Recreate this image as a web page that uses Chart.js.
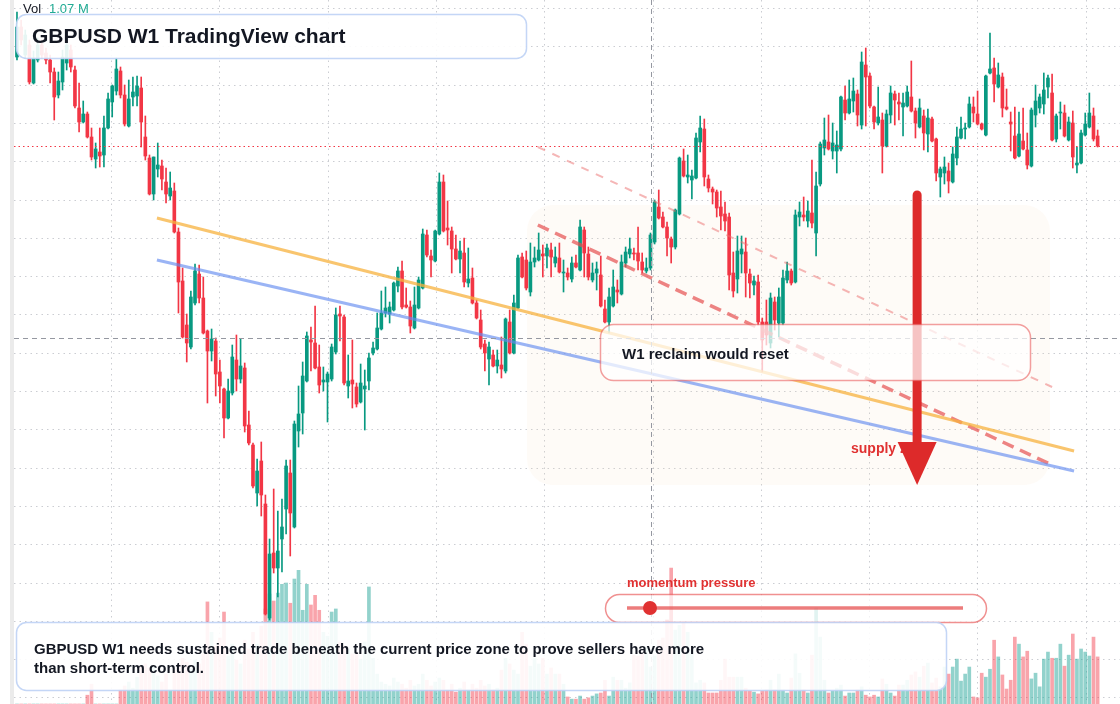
<!DOCTYPE html>
<html>
<head>
<meta charset="utf-8">
<title>GBPUSD W1 TradingView chart</title>
<script src="https://cdn.jsdelivr.net/npm/chart.js"></script>
<style>
  html, body { margin: 0; padding: 0; background: #ffffff; }
  #wrap { position: relative; width: 1120px; height: 704px; }
  canvas { display: block; }
</style>
</head>
<body>
<div id="wrap"><canvas id="chart" width="1120" height="704"></canvas></div>
<script>
// weekly candles, oldest first
const opens = [
  1.4215, 1.4365, 1.4225, 1.4275, 1.4085, 1.4200, 1.4275, 1.4235, 1.4200, 1.4140,
  1.4025, 1.4090, 1.4185, 1.4250, 1.4150, 1.3960, 1.3890, 1.3930, 1.3815, 1.3705,
  1.3740, 1.3725, 1.3860, 1.3990, 1.4045, 1.4145, 1.4025, 1.3870, 1.4015, 1.4020,
  1.4060, 1.3815, 1.3710, 1.3530, 1.3655, 1.3670, 1.3590, 1.3520, 1.3545, 1.3340,
  1.3095, 1.2875, 1.2765, 1.2985, 1.3130, 1.3010, 1.2845, 1.2745, 1.2795, 1.2640,
  1.2555, 1.2410, 1.2535, 1.2700, 1.2605, 1.2660, 1.2375, 1.2275, 1.2035, 1.2195,
  1.1980, 1.1410, 1.1735, 1.1660, 1.1805, 1.1955, 1.2135, 1.1865, 1.2345, 1.2435,
  1.2595, 1.2800, 1.2785, 1.2665, 1.2590, 1.2590, 1.2605, 1.2740, 1.2930, 1.2915,
  1.2570, 1.2600, 1.2565, 1.2490, 1.2555, 1.2595, 1.2735, 1.2755, 1.2855, 1.2935,
  1.2930, 1.2950, 1.3070, 1.3145, 1.2975, 1.2965, 1.2860, 1.2960, 1.3060, 1.3325,
  1.3220, 1.3195, 1.3330, 1.3590, 1.3360, 1.3345, 1.3255, 1.3205, 1.3235, 1.3085,
  1.3110, 1.2985, 1.2900, 1.2780, 1.2705, 1.2725, 1.2670, 1.2675, 1.2645, 1.2890,
  1.2735, 1.2960, 1.3215, 1.3200, 1.3040, 1.3190, 1.3200, 1.3230, 1.3220, 1.3250,
  1.3185, 1.3210, 1.3135, 1.3135, 1.3105, 1.3185, 1.3150, 1.3350, 1.3230, 1.3100,
  1.3135, 1.3125, 1.2955, 1.2890, 1.2970, 1.3050, 1.3030, 1.3185, 1.3230, 1.3235,
  1.3235, 1.3190, 1.3145, 1.3160, 1.3290, 1.3465, 1.3415, 1.3365, 1.3305, 1.3265,
  1.3430, 1.3695, 1.3615, 1.3600, 1.3610, 1.3790, 1.3855, 1.3605, 1.3555, 1.3540,
  1.3465, 1.3430, 1.3415, 1.3135, 1.3105, 1.3230, 1.3240, 1.3130, 1.3075, 1.3090,
  1.2890, 1.2890, 1.2785, 1.2990, 1.2885, 1.2885, 1.3100, 1.3145, 1.3090, 1.3415,
  1.3425, 1.3395, 1.3435, 1.3335, 1.3580, 1.3760, 1.3790, 1.3745, 1.3745, 1.3755,
  1.4000, 1.3935, 1.3995, 1.4030, 1.3875, 1.4175, 1.4120, 1.3965, 1.3885, 1.3900,
  1.3770, 1.3925, 1.4030, 1.3990, 1.3965, 1.3970, 1.4015, 1.3945, 1.3865, 1.3920,
  1.3830, 1.3905, 1.3805, 1.3615, 1.3635, 1.3645, 1.3590, 1.3710, 1.3810, 1.3855,
  1.3865, 1.3965, 1.3930, 1.3880, 1.3825, 1.4135, 1.4160, 1.4065, 1.4115, 1.3965,
  1.3890, 1.3820, 1.3720, 1.3795, 1.3750, 1.3670, 1.3925, 1.3960, 1.3980, 1.4065,
  1.4035, 1.3805, 1.3935, 1.3935, 1.3800, 1.3885, 1.3675, 1.3685, 1.3825, 1.3865,
  1.3920, 1.3820
];
const highs = [
  1.4440, 1.4400, 1.4350, 1.4300, 1.4245, 1.4310, 1.4300, 1.4260, 1.4225, 1.4160,
  1.4140, 1.4250, 1.4300, 1.4275, 1.4170, 1.4085, 1.3995, 1.3940, 1.3860, 1.3785,
  1.3860, 1.3920, 1.4035, 1.4075, 1.4210, 1.4165, 1.4075, 1.4100, 1.4115, 1.4120,
  1.4115, 1.3920, 1.3725, 1.3715, 1.3785, 1.3700, 1.3660, 1.3640, 1.3585, 1.3360,
  1.3160, 1.2930, 1.3045, 1.3180, 1.3175, 1.3115, 1.2850, 1.2855, 1.2810, 1.2700,
  1.2560, 1.2605, 1.2775, 1.2825, 1.2805, 1.2685, 1.2445, 1.2285, 1.2205, 1.2290,
  1.2025, 1.1805, 1.2055, 1.1945, 1.2005, 1.2200, 1.2200, 1.2395, 1.2570, 1.2690,
  1.2840, 1.2865, 1.2970, 1.2775, 1.2665, 1.2640, 1.2780, 1.2960, 1.2970, 1.2925,
  1.2725, 1.2800, 1.2585, 1.2680, 1.2650, 1.2735, 1.2790, 1.2935, 1.3045, 1.3065,
  1.2990, 1.3090, 1.3165, 1.3195, 1.3060, 1.2995, 1.3065, 1.3115, 1.3355, 1.3350,
  1.3250, 1.3350, 1.3635, 1.3625, 1.3495, 1.3365, 1.3325, 1.3295, 1.3310, 1.3260,
  1.3160, 1.3000, 1.2950, 1.2800, 1.2790, 1.2750, 1.2750, 1.2815, 1.2910, 1.2950,
  1.3025, 1.3225, 1.3235, 1.3245, 1.3285, 1.3265, 1.3335, 1.3275, 1.3280, 1.3285,
  1.3265, 1.3285, 1.3200, 1.3160, 1.3215, 1.3225, 1.3400, 1.3365, 1.3265, 1.3185,
  1.3190, 1.3220, 1.3000, 1.3060, 1.3150, 1.3100, 1.3225, 1.3265, 1.3310, 1.3260,
  1.3365, 1.3235, 1.3210, 1.3335, 1.3500, 1.3550, 1.3440, 1.3390, 1.3315, 1.3455,
  1.3715, 1.3755, 1.3725, 1.3650, 1.3835, 1.3920, 1.3905, 1.3625, 1.3565, 1.3550,
  1.3545, 1.3490, 1.3435, 1.3240, 1.3320, 1.3320, 1.3310, 1.3155, 1.3120, 1.3125,
  1.2910, 1.3000, 1.3035, 1.3015, 1.3060, 1.3150, 1.3190, 1.3155, 1.3450, 1.3490,
  1.3515, 1.3495, 1.3700, 1.3640, 1.3790, 1.3910, 1.3925, 1.3885, 1.3845, 1.4020,
  1.4070, 1.4100, 1.4110, 1.4050, 1.4240, 1.4260, 1.4135, 1.3970, 1.4065, 1.3935,
  1.3950, 1.4070, 1.4045, 1.4035, 1.4035, 1.4070, 1.4195, 1.3960, 1.4005, 1.3950,
  1.3955, 1.3915, 1.3810, 1.3665, 1.3715, 1.3685, 1.3765, 1.3865, 1.3915, 1.3885,
  1.4015, 1.4015, 1.4045, 1.3885, 1.4125, 1.4335, 1.4210, 1.4185, 1.4135, 1.4055,
  1.3940, 1.3965, 1.3940, 1.3960, 1.3835, 1.3960, 1.4075, 1.4030, 1.4135, 1.4125,
  1.4130, 1.3930, 1.3990, 1.3975, 1.3915, 1.3945, 1.3765, 1.3850, 1.3935, 1.4035,
  1.3960, 1.3850
];
const lows = [
  1.4200, 1.4275, 1.4210, 1.4080, 1.4080, 1.4190, 1.4210, 1.4180, 1.4085, 1.3900,
  1.4010, 1.4050, 1.4150, 1.4140, 1.3960, 1.3840, 1.3885, 1.3810, 1.3700, 1.3660,
  1.3665, 1.3665, 1.3855, 1.3915, 1.4025, 1.4010, 1.3870, 1.3865, 1.3970, 1.3970,
  1.3765, 1.3700, 1.3525, 1.3500, 1.3615, 1.3550, 1.3485, 1.3500, 1.3335, 1.2935,
  1.2810, 1.2690, 1.2755, 1.2975, 1.2985, 1.2830, 1.2485, 1.2695, 1.2520, 1.2485,
  1.2310, 1.2405, 1.2525, 1.2545, 1.2585, 1.2340, 1.2275, 1.2060, 1.1970, 1.1920,
  1.1425, 1.1400, 1.1635, 1.1515, 1.1640, 1.1830, 1.1720, 1.1860, 1.2265, 1.2330,
  1.2590, 1.2645, 1.2655, 1.2535, 1.2545, 1.2390, 1.2595, 1.2730, 1.2795, 1.2575,
  1.2510, 1.2460, 1.2465, 1.2485, 1.2350, 1.2550, 1.2725, 1.2750, 1.2850, 1.2915,
  1.2885, 1.2945, 1.3040, 1.2955, 1.2960, 1.2835, 1.2855, 1.2955, 1.3055, 1.3215,
  1.3115, 1.3190, 1.3325, 1.3340, 1.3275, 1.3135, 1.3200, 1.3135, 1.3065, 1.3065,
  1.2980, 1.2905, 1.2755, 1.2645, 1.2575, 1.2665, 1.2635, 1.2610, 1.2635, 1.2730,
  1.2730, 1.2955, 1.3110, 1.3050, 1.3020, 1.3165, 1.3195, 1.3115, 1.3160, 1.3115,
  1.3165, 1.3135, 1.3040, 1.3100, 1.3090, 1.3160, 1.3145, 1.3115, 1.3100, 1.3090,
  1.3050, 1.2965, 1.2885, 1.2835, 1.2965, 1.2985, 1.3025, 1.3165, 1.3210, 1.3200,
  1.3150, 1.3135, 1.3135, 1.3150, 1.3280, 1.3405, 1.3360, 1.3220, 1.3185, 1.3255,
  1.3425, 1.3615, 1.3585, 1.3505, 1.3605, 1.3740, 1.3570, 1.3540, 1.3480, 1.3415,
  1.3350, 1.3345, 1.3050, 1.3015, 1.3035, 1.3135, 1.3015, 1.3010, 1.3025, 1.2875,
  1.2640, 1.2775, 1.2760, 1.2850, 1.2815, 1.2875, 1.3085, 1.3075, 1.3085, 1.3370,
  1.3395, 1.3365, 1.3360, 1.3220, 1.3570, 1.3725, 1.3750, 1.3705, 1.3635, 1.3745,
  1.3900, 1.3930, 1.3940, 1.3870, 1.3855, 1.3870, 1.3960, 1.3855, 1.3875, 1.3635,
  1.3765, 1.3885, 1.3875, 1.3900, 1.3820, 1.3965, 1.3940, 1.3810, 1.3860, 1.3750,
  1.3740, 1.3790, 1.3595, 1.3515, 1.3580, 1.3535, 1.3585, 1.3675, 1.3805, 1.3805,
  1.3860, 1.3890, 1.3875, 1.3850, 1.3820, 1.4130, 1.3990, 1.4060, 1.3915, 1.3950,
  1.3745, 1.3705, 1.3715, 1.3750, 1.3655, 1.3665, 1.3865, 1.3935, 1.3930, 1.4010,
  1.3795, 1.3790, 1.3855, 1.3815, 1.3795, 1.3660, 1.3635, 1.3680, 1.3820, 1.3860,
  1.3795, 1.3765
];
const closes = [
  1.4365, 1.4300, 1.4325, 1.4090, 1.4210, 1.4275, 1.4225, 1.4200, 1.4140, 1.4015,
  1.4095, 1.4215, 1.4275, 1.4165, 1.3970, 1.3890, 1.3930, 1.3815, 1.3715, 1.3755,
  1.3720, 1.3860, 1.4005, 1.4070, 1.4155, 1.4025, 1.3880, 1.4005, 1.4040, 1.4070,
  1.3890, 1.3720, 1.3530, 1.3715, 1.3675, 1.3605, 1.3530, 1.3560, 1.3340, 1.3090,
  1.2815, 1.2785, 1.3015, 1.3145, 1.3010, 1.2835, 1.2745, 1.2805, 1.2630, 1.2570,
  1.2410, 1.2545, 1.2715, 1.2605, 1.2670, 1.2370, 1.2285, 1.2070, 1.2145, 1.2025,
  1.1430, 1.1730, 1.1660, 1.1745, 1.1865, 1.2170, 1.1935, 1.2380, 1.2430, 1.2620,
  1.2820, 1.2790, 1.2660, 1.2575, 1.2600, 1.2630, 1.2765, 1.2925, 1.2920, 1.2585,
  1.2595, 1.2580, 1.2480, 1.2585, 1.2570, 1.2710, 1.2760, 1.2860, 1.2935, 1.2960,
  1.2965, 1.3085, 1.3145, 1.2965, 1.2965, 1.2870, 1.2975, 1.3100, 1.3330, 1.3225,
  1.3200, 1.3345, 1.3590, 1.3345, 1.3350, 1.3255, 1.3205, 1.3245, 1.3090, 1.3105,
  1.2985, 1.2910, 1.2765, 1.2735, 1.2765, 1.2670, 1.2700, 1.2655, 1.2905, 1.2735,
  1.2985, 1.3210, 1.3115, 1.3060, 1.3190, 1.3210, 1.3250, 1.3220, 1.3260, 1.3215,
  1.3215, 1.3140, 1.3140, 1.3115, 1.3185, 1.3165, 1.3365, 1.3235, 1.3115, 1.3135,
  1.3155, 1.2970, 1.2890, 1.3015, 1.3065, 1.3040, 1.3190, 1.3240, 1.3255, 1.3230,
  1.3195, 1.3150, 1.3160, 1.3325, 1.3490, 1.3410, 1.3365, 1.3310, 1.3265, 1.3450,
  1.3710, 1.3620, 1.3625, 1.3620, 1.3810, 1.3860, 1.3615, 1.3560, 1.3540, 1.3460,
  1.3420, 1.3395, 1.3125, 1.3045, 1.3245, 1.3255, 1.3135, 1.3085, 1.3095, 1.2890,
  1.2800, 1.2825, 1.3010, 1.2900, 1.3015, 1.3110, 1.3145, 1.3085, 1.3425, 1.3440,
  1.3415, 1.3445, 1.3385, 1.3570, 1.3780, 1.3800, 1.3755, 1.3785, 1.3775, 1.4015,
  1.3935, 1.4005, 1.4045, 1.3925, 1.4190, 1.4115, 1.3970, 1.3890, 1.3915, 1.3770,
  1.3930, 1.4035, 1.4000, 1.3980, 1.3985, 1.4040, 1.3945, 1.3885, 1.3960, 1.3835,
  1.3910, 1.3795, 1.3635, 1.3655, 1.3665, 1.3595, 1.3730, 1.3815, 1.3855, 1.3860,
  1.3980, 1.3935, 1.3880, 1.3855, 1.4120, 1.4155, 1.4080, 1.4125, 1.3960, 1.3955,
  1.3880, 1.3710, 1.3830, 1.3755, 1.3675, 1.3950, 1.3995, 1.4015, 1.4050, 1.4110,
  1.3800, 1.3920, 1.3940, 1.3820, 1.3890, 1.3715, 1.3685, 1.3835, 1.3880, 1.3935,
  1.3805, 1.3770
];
// volume, millions
const volumes = [
  0, 0, 0, 0, 0, 0, 0, 0, 0, 0,
  0, 0, 0, 0, 0, 0, 0, 0.20, 0.45, 0,
  0, 0, 0, 0, 0, 0.32, 0.41, 0.50, 0.36, 0.61,
  0.86, 0.91, 0.82, 0.86, 0.64, 0.50, 0.68, 0.32, 0.77, 0.91,
  1.04, 0.95, 0.82, 1.00, 0.91, 1.14, 2.32, 1.63, 1.32, 1.50,
  2.09, 1.09, 1.36, 1.00, 0.91, 1.45, 1.25, 1.63, 1.36, 1.77,
  2.16, 2.50, 2.34, 2.52, 2.72, 2.75, 2.29, 2.84, 3.04, 2.13,
  2.72, 2.25, 2.47, 2.13, 1.63, 1.54, 2.09, 2.16, 1.41, 1.32,
  1.25, 1.14, 1.18, 1.02, 1.41, 2.66, 1.04, 0.68, 0.50, 0.45,
  0.41, 0.59, 0.50, 0.45, 0.36, 0.54, 0.41, 0.45, 0.68, 0.54,
  0.41, 0.50, 0.59, 0.54, 0.32, 0.45, 0.27, 0.36, 0.50, 0.32,
  0.45, 0.36, 0.54, 0.41, 0.45, 0.32, 0.36, 0.77, 1.04, 0.91,
  0.77, 0.68, 1.63, 1.36, 0.86, 1.04, 0.91, 1.04, 0.68, 0.82,
  0.68, 0.68, 0.45, 0.16, 0.11, 0.11, 0.18, 0.11, 0.14, 0.18,
  0.23, 0.25, 0.54, 0.18, 0.61, 0.54, 0.54, 0.36, 0.48, 1.11,
  1.09, 1.14, 1.29, 0.84, 1.09, 1.45, 1.50, 1.91, 3.09, 1.68,
  1.79, 1.86, 1.63, 1.23, 0.48, 0.54, 0.48, 0.25, 0.25, 0.25,
  0.54, 1.02, 0.61, 0.61, 0.61, 0.61, 0.36, 0.30, 0.27, 0.23,
  0.30, 0.32, 0.54, 0.32, 0.68, 0.32, 0.25, 0.59, 1.14, 0.70,
  0.32, 0.25, 1.11, 2.18, 1.52, 0.54, 0.25, 0.30, 0.36, 0.43,
  0.18, 0.25, 0.25, 0.32, 0.39, 0.20, 0.16, 0.20, 0.16, 0.57,
  0.45, 0.25, 0.18, 0.43, 0.43, 0.54, 0.66, 0.73, 0.61, 0.86,
  0.93, 0.48, 0.59, 0.39, 0.84, 0.68, 0.84, 1.02, 0.52, 0.68,
  0.84, 0.16, 0.14, 0.70, 0.61, 0.79, 1.45, 1.07, 0.66, 0.34,
  0.54, 1.52, 1.36, 1.07, 1.20, 0.57, 0.70, 0.39, 1.02, 1.18,
  1.04, 1.04, 1.36, 0.86, 1.11, 1.59, 1.02, 1.25, 1.18, 1.09,
  1.52, 1.07
];

// drawn trend lines: bar index / price at each end
const upperTrendX = [33.8, 255.3];
const upperTrendY = [1.3410, 1.2245];
const lowerTrendX = [33.8, 255.3];
const lowerTrendY = [1.3200, 1.2145];
const channelX = [125.8, 250.5];
const channelY = [1.3375, 1.2170];
const channelTopX = [125.8, 250.0];
const channelTopY = [1.3765, 1.2565];

// crosshair and arrow anchors
const crossBar = 153.1;
const crossPrice = 1.2810;
const arrowBar = 217.4;
const arrowFrom = 1.3525;
const arrowTo = 1.2075;

const UP = '#089981';
const DOWN = '#f23645';

const idx = opens.map((_, i) => i);
const rising = idx.map(i => closes[i] >= opens[i]);
const candleColors = rising.map(u => (u ? UP : DOWN));
const volumeColors = rising.map(u => (u ? 'rgba(38,166,154,0.5)' : 'rgba(242,54,69,0.45)'));

const pts = (xs, ys) => xs.map((x, i) => ({ x: x, y: ys[i] }));

function rr(ctx, x, y, w, h, r) {
  ctx.beginPath();
  ctx.moveTo(x + r, y);
  ctx.arcTo(x + w, y, x + w, y + h, r);
  ctx.arcTo(x + w, y + h, x, y + h, r);
  ctx.arcTo(x, y + h, x, y, r);
  ctx.arcTo(x, y, x + w, y, r);
  ctx.closePath();
}

const FONT = '"Liberation Sans", Arial, sans-serif';

const scene = {
  id: 'scene',
  beforeDraw(chart) {
    const ctx = chart.ctx;
    ctx.save();
    ctx.fillStyle = '#ffffff';
    ctx.fillRect(0, 0, chart.width, chart.height);
    ctx.fillStyle = '#ebebeb';
    ctx.fillRect(10, 0, 4, chart.height);
    ctx.restore();
  },
  beforeDatasetsDraw(chart) {
    const ctx = chart.ctx;
    const a = chart.chartArea;
    const xs = chart.scales.x, ys = chart.scales.y;
    ctx.save();
    ctx.strokeStyle = 'rgba(140,145,155,0.45)';
    ctx.lineWidth = 1;
    ctx.setLineDash([1.5, 4]);
    for (let v = 22.7; v < 266; v += 26.16) {
      const px = Math.round(xs.getPixelForValue(v)) + 0.5;
      ctx.beginPath(); ctx.moveTo(px, a.top); ctx.lineTo(px, a.bottom); ctx.stroke();
    }
    for (let p = 1.4460; p > 1.098; p -= 0.01915) {
      const py = Math.round(ys.getPixelForValue(p)) + 0.5;
      ctx.beginPath(); ctx.moveTo(a.left, py); ctx.lineTo(a.right, py); ctx.stroke();
    }
    ctx.setLineDash([]);
    // faint supply zone shading
    rr(ctx, 527, 205, 523, 280, 26);
    ctx.fillStyle = 'rgba(250,222,190,0.13)';
    ctx.fill();
    ctx.restore();
  },
  afterDatasetsDraw(chart) {
    const ctx = chart.ctx;
    const a = chart.chartArea;
    const xs = chart.scales.x, ys = chart.scales.y;
    ctx.save();

    // last price line
    const lp = Math.round(ys.getPixelForValue(closes[closes.length - 1])) + 0.5;
    ctx.strokeStyle = '#f23645';
    ctx.lineWidth = 1;
    ctx.setLineDash([1.5, 3]);
    ctx.beginPath(); ctx.moveTo(a.left, lp); ctx.lineTo(a.right, lp); ctx.stroke();

    // crosshair
    ctx.strokeStyle = '#9598a1';
    ctx.setLineDash([5, 4]);
    const cx = Math.round(xs.getPixelForValue(crossBar)) + 0.5;
    const cy = Math.round(ys.getPixelForValue(crossPrice)) + 0.5;
    ctx.beginPath(); ctx.moveTo(cx, a.top); ctx.lineTo(cx, a.bottom); ctx.stroke();
    ctx.beginPath(); ctx.moveTo(a.left, cy); ctx.lineTo(a.right, cy); ctx.stroke();
    ctx.setLineDash([]);

    // supply zone label + arrow
    ctx.font = 'bold 14px ' + FONT;
    ctx.fillStyle = '#e03131';
    ctx.textBaseline = 'alphabetic';
    ctx.fillText('supply zone', 851, 453);

    const ax = xs.getPixelForValue(arrowBar);
    const aTop = ys.getPixelForValue(arrowFrom);
    const aTip = ys.getPixelForValue(arrowTo);
    const headLen = 43, headHalf = 19.5;
    ctx.strokeStyle = '#dd2a2a';
    ctx.fillStyle = '#dd2a2a';
    ctx.lineWidth = 9;
    ctx.lineCap = 'round';
    ctx.beginPath(); ctx.moveTo(ax, aTop); ctx.lineTo(ax, aTip - headLen + 4); ctx.stroke();
    ctx.beginPath();
    ctx.moveTo(ax - headHalf, aTip - headLen);
    ctx.lineTo(ax + headHalf, aTip - headLen);
    ctx.lineTo(ax, aTip);
    ctx.closePath();
    ctx.fill();
    ctx.lineCap = 'butt';

    // reclaim note
    rr(ctx, 600.5, 324.5, 430, 56, 13);
    ctx.fillStyle = 'rgba(255,255,255,0.72)';
    ctx.fill();
    ctx.strokeStyle = 'rgba(232,80,80,0.55)';
    ctx.lineWidth = 1.5;
    ctx.stroke();
    ctx.fillStyle = '#131722';
    ctx.font = 'bold 15px ' + FONT;
    ctx.fillText('W1 reclaim would reset', 622, 359);

    // momentum pressure gauge
    ctx.font = 'bold 13px ' + FONT;
    ctx.fillStyle = '#e03131';
    ctx.fillText('momentum pressure', 627, 587);
    rr(ctx, 605.5, 594.5, 381, 28, 14);
    ctx.fillStyle = 'rgba(255,255,255,0.72)';
    ctx.fill();
    ctx.strokeStyle = 'rgba(230,70,70,0.6)';
    ctx.lineWidth = 1.5;
    ctx.stroke();
    ctx.strokeStyle = 'rgba(230,80,80,0.75)';
    ctx.lineWidth = 3.5;
    ctx.beginPath(); ctx.moveTo(627, 608); ctx.lineTo(963, 608); ctx.stroke();
    ctx.fillStyle = '#e03131';
    ctx.beginPath(); ctx.arc(650, 608, 7, 0, Math.PI * 2); ctx.fill();

    // title card
    rr(ctx, 16.5, 14.5, 510, 44, 10);
    ctx.fillStyle = 'rgba(255,255,255,0.9)';
    ctx.fill();
    ctx.strokeStyle = 'rgba(190,210,245,0.9)';
    ctx.lineWidth = 1.5;
    ctx.stroke();
    ctx.fillStyle = '#131722';
    ctx.font = 'bold 21px ' + FONT;
    ctx.fillText('GBPUSD W1 TradingView chart', 32, 43);

    // bottom note
    rr(ctx, 16.5, 622.5, 930, 68, 10);
    ctx.fillStyle = 'rgba(255,255,255,0.9)';
    ctx.fill();
    ctx.strokeStyle = 'rgba(190,210,245,0.9)';
    ctx.stroke();
    ctx.fillStyle = '#131722';
    ctx.font = 'bold 15px ' + FONT;
    ctx.fillText('GBPUSD W1 needs sustained trade beneath the current price zone to prove sellers have more', 34, 654);
    ctx.fillText('than short-term control.', 34, 673);

    // volume legend
    ctx.font = '13px ' + FONT;
    ctx.fillStyle = '#131722';
    ctx.fillText('Vol', 23, 13);
    ctx.fillStyle = '#22ab94';
    ctx.fillText(volumes[volumes.length - 1].toFixed(2) + ' M', 49, 13);

    ctx.restore();
  }
};

new Chart(document.getElementById('chart'), {
  data: {
    datasets: [
      { type: 'line', data: pts(upperTrendX, upperTrendY), borderColor: 'rgba(247,178,62,0.75)', borderWidth: 3, pointRadius: 0, order: 0 },
      { type: 'line', data: pts(lowerTrendX, lowerTrendY), borderColor: 'rgba(100,140,240,0.65)', borderWidth: 3, pointRadius: 0, order: 0 },
      { type: 'line', data: pts(channelX, channelY), borderColor: 'rgba(230,80,80,0.7)', borderWidth: 3.5, borderDash: [12, 7], pointRadius: 0, order: 0 },
      { type: 'line', data: pts(channelTopX, channelTopY), borderColor: 'rgba(235,110,110,0.5)', borderWidth: 2, borderDash: [8, 8], pointRadius: 0, order: 0 },
      {
        type: 'bar',
        data: idx.map(i => ({ x: i, y: [opens[i], closes[i]] })),
        backgroundColor: candleColors,
        barThickness: 3,
        minBarLength: 1,
        grouped: false,
        order: 1
      },
      {
        type: 'bar',
        data: idx.map(i => ({ x: i, y: [lows[i], highs[i]] })),
        backgroundColor: candleColors,
        barThickness: 1,
        grouped: false,
        order: 2
      },
      {
        type: 'bar',
        yAxisID: 'yv',
        data: idx.map(i => ({ x: i, y: volumes[i] })),
        backgroundColor: volumeColors,
        barThickness: 3,
        grouped: false,
        order: 3
      }
    ]
  },
  options: {
    responsive: false,
    animation: false,
    events: [],
    layout: { padding: { left: 14, right: 0, top: 0, bottom: 0 } },
    plugins: { legend: { display: false }, tooltip: { enabled: false } },
    scales: {
      x: { type: 'linear', min: -0.72, max: 266.4, offset: false, grid: { offset: false }, display: false },
      y: { type: 'linear', min: 1.098, max: 1.45, display: false },
      yv: { type: 'linear', min: 0, max: 16, display: false }
    }
  },
  plugins: [scene]
});
</script>
</body>
</html>
